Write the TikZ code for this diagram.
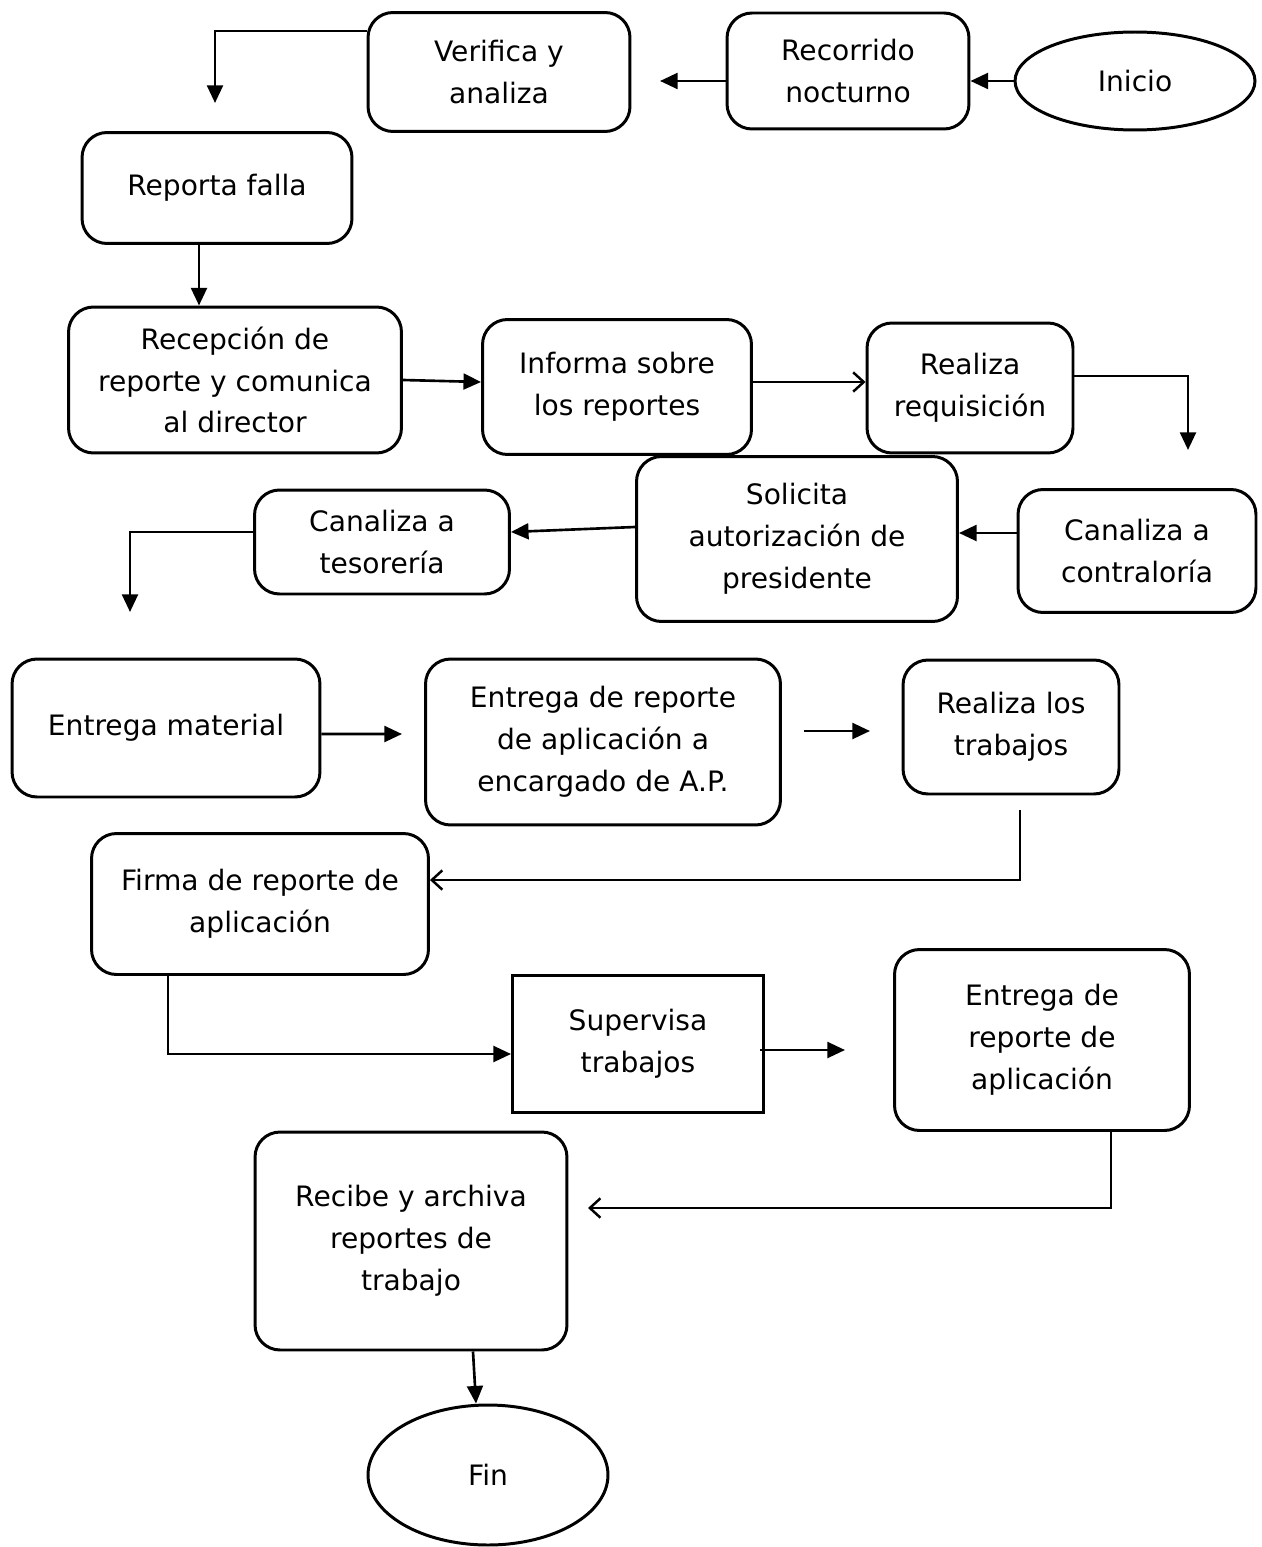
\documentclass[tikz,border=0pt]{standalone}
\usepackage{fontspec}
\setmainfont{DejaVu Sans}
\usetikzlibrary{arrows.meta,shapes.geometric}

\tikzset{
  paso/.style={draw, line width=1.7pt, rounded corners=0.5cm, align=center,
               inner sep=0pt, font=\fontsize{16}{23.8}\selectfont},
  caja/.style={paso, rounded corners=0pt},
  limite/.style={draw, ellipse, line width=1.7pt, inner sep=0pt,
                 font=\fontsize{16}{23.8}\selectfont},
  flecha/.style={line width=1.5pt, -{Triangle[length=10pt,width=9pt]}},
  abierta/.style={line width=1.4pt, -{Straight Barb[length=6pt,width=11pt,line width=1.4pt]}}
}

\begin{document}
\begin{tikzpicture}[x=0.02cm, y=-0.02cm]
    \useasboundingbox (0,0) rectangle (1261,1547);

    % pasos
    \node[limite, minimum width=4.8cm, minimum height=1.96cm] (ini) at (1135,81) {Inicio};
    \node[paso, minimum width=4.84cm, minimum height=2.32cm] (rec) at (848,71) {Recorrido\\nocturno};
    \node[paso, minimum width=5.24cm, minimum height=2.38cm] (ver) at (499,72) {Verifica y\\analiza};
    \node[paso, minimum width=5.4cm, minimum height=2.22cm] (rep) at (217,188) {Reporta falla};
    \node[paso, minimum width=6.66cm, minimum height=2.92cm] (recep) at (235,380) {Recepción de\\reporte y comunica\\al director};
    \node[paso, minimum width=5.38cm, minimum height=2.7cm] (inf) at (617,387) {Informa sobre\\los reportes};
    \node[paso, minimum width=4.12cm, minimum height=2.6cm] (req) at (970,388) {Realiza\\requisición};
    \node[paso, minimum width=4.76cm, minimum height=2.46cm] (con) at (1137,551) {Canaliza a\\contraloría};
    \node[paso, minimum width=6.42cm, minimum height=3.3cm] (sol) at (797,539) {Solicita\\autorización de\\presidente};
    \node[paso, minimum width=5.1cm, minimum height=2.08cm] (tes) at (382,542) {Canaliza a\\tesorería};
    \node[paso, minimum width=6.16cm, minimum height=2.76cm] (mat) at (166,728) {Entrega material};
    \node[paso, minimum width=7.1cm, minimum height=3.32cm] (ent) at (603,742) {Entrega de reporte\\de aplicación a\\encargado de A.P.};
    \node[paso, minimum width=4.32cm, minimum height=2.68cm] (tra) at (1011,727) {Realiza los\\trabajos};
    \node[paso, minimum width=6.74cm, minimum height=2.82cm] (fir) at (260,904) {Firma de reporte de\\aplicación};
    \node[caja, minimum width=5.02cm, minimum height=2.74cm] (sup) at (638,1044) {Supervisa\\trabajos};
    \node[paso, minimum width=5.9cm, minimum height=3.62cm] (en2) at (1042,1040) {Entrega de\\reporte de\\aplicación};
    \node[paso, minimum width=6.24cm, minimum height=4.36cm] (rcb) at (411,1241) {Recibe y archiva\\reportes de\\trabajo};
    \node[limite, minimum width=4.8cm, minimum height=2.8cm] (fin) at (488,1475) {Fin};

    % extremos libres
    \coordinate (p2) at (660,81);
    \coordinate (p3) at (215,103);
    \coordinate (p7) at (1188,450);
    \coordinate (p10) at (130,612);
    \coordinate (p11) at (402,734);
    \coordinate (p12a) at (804,731);
    \coordinate (p12b) at (870,731);
    \coordinate (p13) at (1020,810);
    \coordinate (p15a) at (760,1050);
    \coordinate (p15b) at (845,1050);
    \coordinate (p16) at (588,1208);

    % conectores
    \draw[flecha] (ini.west) -- (ini.west -| rec.east);
    \draw[flecha] (rec.west |- p2) -- (p2);
    \draw[flecha] ([yshift=-0.4cm]ver.north west) -| (p3);
    \draw[flecha] ([xshift=-0.36cm]rep.south) -- ([xshift=-0.36cm]rep.south |- recep.north);
    \draw[flecha] (recep.east) -- ([yshift=0.1cm]inf.west);
    \draw[abierta] ([yshift=0.1cm]inf.east) -- ([yshift=0.1cm]inf.east -| req.west);
    \draw[flecha] ([yshift=0.24cm]req.east) -| (p7);
    \draw[flecha] ([yshift=0.36cm]con.west) -- ([yshift=0.36cm]con.west -| sol.east);
    \draw[flecha] ([yshift=0.24cm]sol.west) -- ([yshift=0.2cm]tes.east);
    \draw[flecha] ([yshift=0.2cm]tes.west) -| (p10);
    \draw[flecha] ([yshift=-0.12cm]mat.east) -- (p11);
    \draw[flecha] (p12a) -- (p12b);
    \draw[abierta] (p13) |- ([yshift=0.48cm]fir.east);
    \draw[flecha] ([xshift=-1.84cm]fir.south) |- ([yshift=-0.2cm]sup.west);
    \draw[flecha] (p15a) -- (p15b);
    \draw[abierta] ([xshift=1.38cm]en2.south) |- (p16);
    \draw[flecha] ([xshift=1.24cm]rcb.south) -- ([xshift=-0.24cm]fin.north);
\end{tikzpicture}
\end{document}
